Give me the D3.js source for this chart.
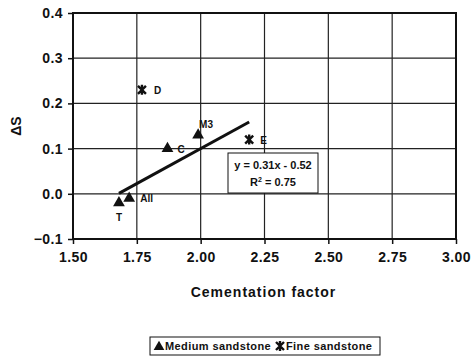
<!DOCTYPE html>
<html>
<head>
<meta charset="utf-8">
<script src="https://cdn.jsdelivr.net/npm/d3@7"></script>
<style>
  body { margin: 0; background: #fff; }
  svg text { font-family: "Liberation Sans", Arial, sans-serif; font-weight: bold; fill: #111; }
</style>
</head>
<body>
<script>
// medium sandstone (triangles)
var mediumNames = ["M3", "C", "All", "T"];
var mediumX = [1.99, 1.87, 1.72, 1.68];
var mediumY = [0.13, 0.10, -0.01, -0.02];

// fine sandstone (star markers)
var fineNames = ["D", "E"];
var fineX = [1.77, 2.19];
var fineY = [0.23, 0.12];

// trend line y = 0.31x - 0.52
var trendX = [1.68, 2.19];
var slope = 0.31, intercept = -0.52;

var xTicks = [1.50, 1.75, 2.00, 2.25, 2.50, 2.75, 3.00];
var yTicks = [-0.1, 0.0, 0.1, 0.2, 0.3, 0.4];

var margin = {top: 13, right: 15, bottom: 117, left: 73},
    width = 471 - margin.left - margin.right,
    height = 356 - margin.top - margin.bottom;

var svg = d3.select("body").append("svg")
    .attr("width", 471)
    .attr("height", 356);

var g = svg.append("g")
    .attr("transform", "translate(" + margin.left + "," + margin.top + ")");

var x = d3.scaleLinear().domain([1.5, 3.0]).range([0, width]);
var y = d3.scaleLinear().domain([-0.1, 0.4]).range([height, 0]);

// gridlines
g.selectAll(".vgrid").data(xTicks).enter().append("line")
    .attr("x1", d => x(d)).attr("x2", d => x(d))
    .attr("y1", 0).attr("y2", height)
    .attr("stroke", "#222").attr("stroke-width", 1.2);
g.selectAll(".hgrid").data(yTicks).enter().append("line")
    .attr("x1", 0).attr("x2", width)
    .attr("y1", d => y(d)).attr("y2", d => y(d))
    .attr("stroke", "#222").attr("stroke-width", 1.2);

// axes
var xAxis = g.append("g")
    .attr("transform", "translate(0," + height + ")")
    .call(d3.axisBottom(x).tickValues(xTicks).tickFormat(d3.format(".2f")).tickSize(5).tickPadding(8));
var yAxis = g.append("g")
    .call(d3.axisLeft(y).tickValues(yTicks).tickFormat(d3.format(".1f")).tickSize(5).tickPadding(5));
[xAxis, yAxis].forEach(function(a) {
  a.select(".domain").remove();
  a.selectAll("line").attr("stroke", "#111").attr("stroke-width", 1.5);
  a.selectAll("text").attr("font-size", 14).attr("letter-spacing", 0.4)
    .style("font-family", "'Liberation Sans', Arial, sans-serif").style("font-weight", "bold");
});

// plot border
g.append("rect")
    .attr("width", width).attr("height", height)
    .attr("fill", "none").attr("stroke", "#111").attr("stroke-width", 2);

// axis titles
svg.append("text")
    .attr("x", margin.left + width / 2 - 1).attr("y", 297)
    .attr("text-anchor", "middle").attr("font-size", 14).attr("letter-spacing", 1)
    .text("Cementation factor");
svg.append("text")
    .attr("transform", "translate(21," + (margin.top + y(0.15)) + ") rotate(-90)")
    .attr("text-anchor", "middle").attr("font-size", 14)
    .text("ΔS");

// trend line
g.append("line")
    .attr("x1", x(trendX[0])).attr("y1", y(slope * trendX[0] + intercept))
    .attr("x2", x(trendX[1])).attr("y2", y(slope * trendX[1] + intercept))
    .attr("stroke", "#111").attr("stroke-width", 3);

// markers
var tri = d3.symbol().type(d3.symbolTriangle).size(60);
var medium = mediumNames.map((n, i) => ({name: n, x: mediumX[i], y: mediumY[i]}));
var fine = fineNames.map((n, i) => ({name: n, x: fineX[i], y: fineY[i]}));

g.selectAll(".tri").data(medium).enter().append("path")
    .attr("d", tri)
    .attr("transform", d => "translate(" + x(d.x) + "," + y(d.y) + ")")
    .attr("fill", "#111");

function star(sel) {
  sel.append("path")
      .attr("d", "M-4,-4L4,4M4,-4L-4,4M0,-5L0,5")
      .attr("stroke", "#111").attr("stroke-width", 2.4).attr("fill", "none");
}
g.selectAll(".star").data(fine).enter().append("g")
    .attr("transform", d => "translate(" + x(d.x) + "," + y(d.y) + ")")
    .call(star);

// point labels
var labelOffset = {
  "M3": [1, -7], "C": [10, 4], "All": [11, 4], "T": [-3, 18],
  "D": [12, 4], "E": [11, 4]
};
g.selectAll(".lbl").data(medium.concat(fine)).enter().append("text")
    .attr("x", d => x(d.x) + labelOffset[d.name][0])
    .attr("y", d => y(d.y) + labelOffset[d.name][1])
    .attr("font-size", 10)
    .text(d => d.name);

// equation box
var eq = svg.append("g").attr("transform", "translate(228,153)");
eq.append("rect").attr("width", 90).attr("height", 40)
    .attr("fill", "#fff").attr("stroke", "#111").attr("stroke-width", 1);
eq.append("text").attr("x", 45).attr("y", 16).attr("text-anchor", "middle").attr("font-size", 11)
    .text("y = 0.31x - 0.52");
var r2 = eq.append("text").attr("x", 45).attr("y", 33).attr("text-anchor", "middle").attr("font-size", 11);
r2.append("tspan").text("R");
r2.append("tspan").attr("dy", -4).attr("font-size", 7).text("2");
r2.append("tspan").attr("dy", 4).text(" = 0.75");

// legend
var leg = svg.append("g").attr("transform", "translate(150,337)");
leg.append("rect").attr("width", 230).attr("height", 18)
    .attr("fill", "#fff").attr("stroke", "#111").attr("stroke-width", 1);
leg.append("path").attr("d", d3.symbol().type(d3.symbolTriangle).size(50))
    .attr("transform", "translate(9,10)").attr("fill", "#111");
leg.append("text").attr("x", 15).attr("y", 13).attr("font-size", 11).attr("letter-spacing", 0.4).text("Medium sandstone");
leg.append("g").attr("transform", "translate(130,9)").call(star);
leg.append("text").attr("x", 136).attr("y", 13).attr("font-size", 11).attr("letter-spacing", 0.4).text("Fine sandstone");
</script>
</body>
</html>
